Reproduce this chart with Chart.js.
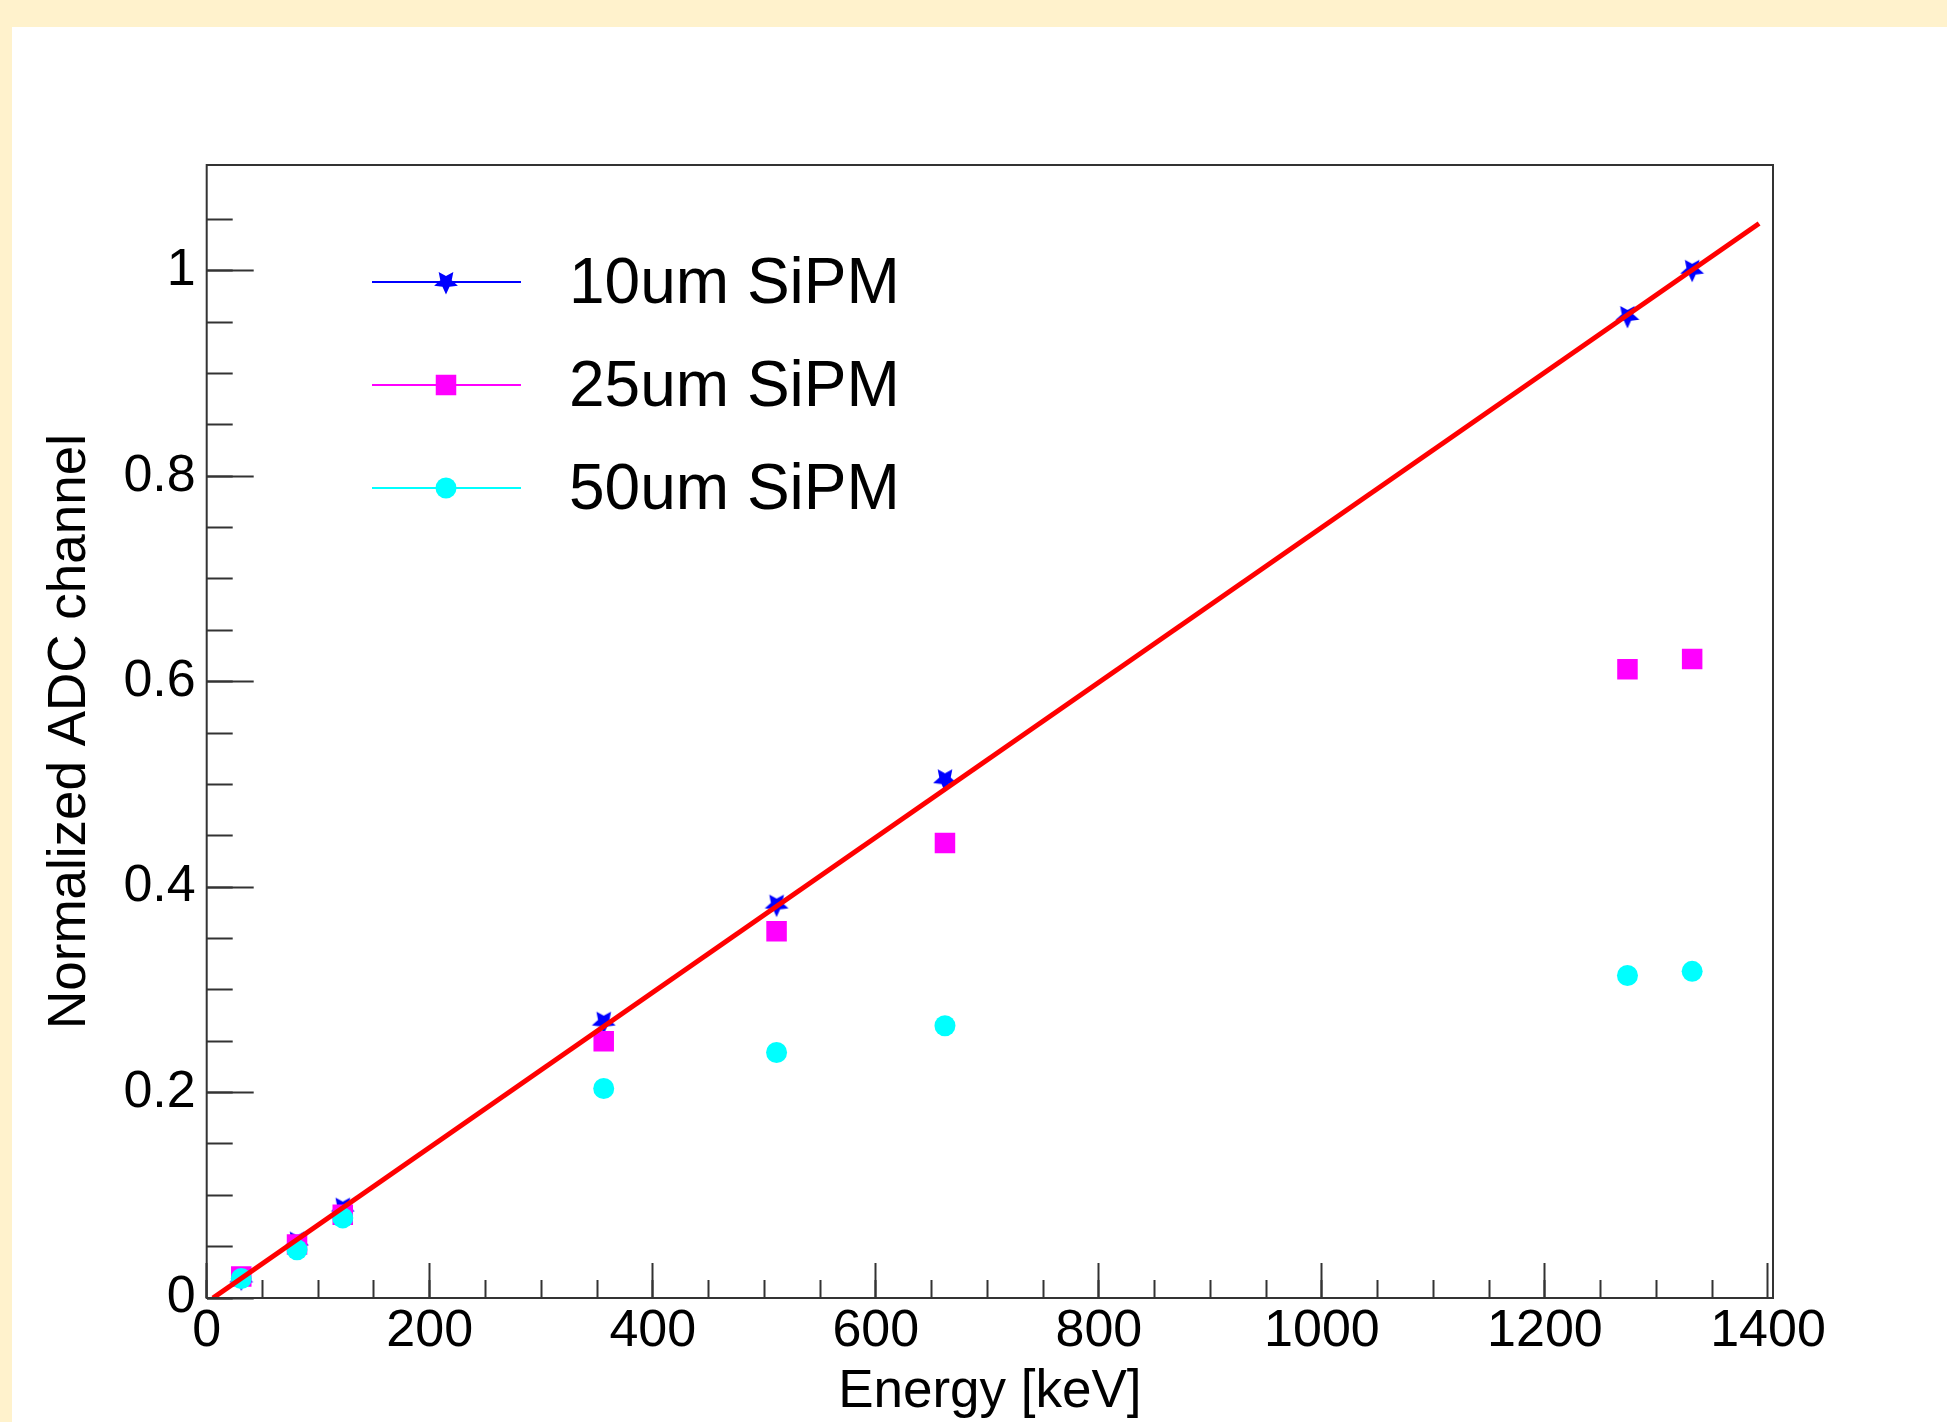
<!DOCTYPE html>
<html>
<head>
<meta charset="utf-8">
<script src="https://cdn.jsdelivr.net/npm/chart.js@4.4.1/dist/chart.umd.min.js"></script>
<style>
  html, body { margin: 0; padding: 0; background: rgb(255, 242, 204); width: 1947px; height: 1422px; overflow: hidden; }
  #c { position: absolute; left: 12px; top: 27px; background: #ffffff; }
</style>
</head>
<body>
<canvas id="c" width="1935" height="1395"></canvas>
<script>
// ---------------- data ----------------
const energies = [31, 81, 122, 356, 511, 662, 1274, 1332];          // keV
const sipm10 = [0.019, 0.055, 0.088, 0.269, 0.383, 0.505, 0.956, 1.001];
const sipm25 = [0.021, 0.052, 0.081, 0.250, 0.357, 0.443, 0.612, 0.622];
const sipm50 = [0.019, 0.047, 0.078, 0.204, 0.239, 0.265, 0.314, 0.318];
const seriesLabels = ['10um SiPM', '25um SiPM', '50um SiPM'];
// linear fit drawn as a straight line: endpoints
const fitEnergy = [5.6, 1392];
const fitADC = [0.0, 1.046];
// axes
const xMin = 0, xMax = 1404.5, xMinorStep = 50;
const yMin = 0, yMax = 1.103, yMinorStep = 0.05;
const xTickLabels = [0, 200, 400, 600, 800, 1000, 1200, 1400];
const yTickLabels = [0, 0.2, 0.4, 0.6, 0.8, 1];
const xTitle = 'Energy [keV]';
const yTitle = 'Normalized ADC channel';

// ---------------- styling ----------------
const FONT = 'Liberation Sans';
const AXIS_COLOR = '#333333';

function makeStar(color) {
  const c = document.createElement('canvas');
  c.width = 28; c.height = 28;
  const g = c.getContext('2d');
  const R = 12.5, r = 6.0, cx = 14, cy = 14;
  g.beginPath();
  for (let k = 0; k < 10; k++) {
    const a = Math.PI / 2 + k * Math.PI / 5;
    const rr = (k % 2 === 0) ? R : r;
    const px = cx + rr * Math.cos(a), py = cy + rr * Math.sin(a);
    if (k === 0) g.moveTo(px, py); else g.lineTo(px, py);
  }
  g.closePath();
  g.fillStyle = color;
  g.fill();
  return c;
}

const pts = (ys) => energies.map((e, i) => ({ x: e, y: ys[i] }));
const fixedTicks = (vals) => (scale) => { scale.ticks = vals.map(v => ({ value: v })); };
const onStep = (step) => (scale) => {
  scale.ticks = scale.ticks.filter(t => Math.abs(t.value / step - Math.round(t.value / step)) < 1e-6);
};

const starImg = makeStar('#0000ff');

const datasets = [
  {
    label: 'fit', type: 'line', data: fitEnergy.map((e, i) => ({ x: e, y: fitADC[i] })),
    borderColor: '#ff0000', borderWidth: 5, pointRadius: 0, showLine: true, fill: false,
    order: 0, xAxisID: 'x', yAxisID: 'y'
  },
  {
    label: seriesLabels[2], data: pts(sipm50), backgroundColor: '#00ffff', borderColor: '#00ffff',
    pointStyle: 'circle', pointRadius: 10.5, pointBorderWidth: 0, order: 1
  },
  {
    label: seriesLabels[1], data: pts(sipm25), backgroundColor: '#ff00ff', borderColor: '#ff00ff',
    pointStyle: 'rect', pointRadius: 14.5, pointBorderWidth: 0, order: 2
  },
  {
    label: seriesLabels[0], data: pts(sipm10), backgroundColor: '#0000ff', borderColor: '#0000ff',
    pointStyle: starImg, pointRadius: 12, pointBorderWidth: 0, order: 3
  }
];

// frame + legend plugin
const rootStyle = {
  id: 'rootStyle',
  afterDraw(chart) {
    const ctx = chart.ctx;
    const a = chart.chartArea;
    ctx.save();
    ctx.strokeStyle = AXIS_COLOR;
    ctx.lineWidth = 2;
    ctx.strokeRect(a.left, a.top, a.right - a.left, a.bottom - a.top);

    // legend (inside the frame, upper left)
    const order = [3, 2, 1]; // 10um, 25um, 50um
    const rowsY = [255, 358, 461];
    const lineX1 = 360, lineX2 = 509, markX = 434, textX = 557;
    order.forEach((di, r) => {
      const ds = chart.data.datasets[di];
      const y = rowsY[r];
      ctx.strokeStyle = ds.borderColor;
      ctx.lineWidth = 2;
      ctx.beginPath();
      ctx.moveTo(lineX1, y); ctx.lineTo(lineX2, y);
      ctx.stroke();
      ctx.fillStyle = ds.backgroundColor;
      if (ds.pointStyle === 'circle') {
        ctx.beginPath(); ctx.arc(markX, y, ds.pointRadius, 0, Math.PI * 2); ctx.fill();
      } else if (ds.pointStyle === 'rect') {
        const s = ds.pointRadius * Math.SQRT1_2; ctx.fillRect(markX - s, y - s, 2 * s, 2 * s);
      } else {
        const img = ds.pointStyle; ctx.drawImage(img, markX - img.width / 2, y - img.height / 2);
      }
      ctx.fillStyle = '#000000';
      ctx.font = '64px "' + FONT + '"';
      ctx.textAlign = 'left';
      ctx.textBaseline = 'middle';
      ctx.fillText(ds.label, textX, y + 3);
    });
    ctx.restore();
  }
};

const tickFmt = (v) => String(+Number(v).toFixed(2));

new Chart(document.getElementById('c'), {
  type: 'scatter',
  data: { datasets },
  plugins: [rootStyle],
  options: {
    responsive: false,
    animation: false,
    devicePixelRatio: 1,
    layout: { padding: { left: 0, top: 138, right: 174, bottom: 0 } },
    plugins: { legend: { display: false }, tooltip: { enabled: false } },
    scales: {
      x: {
        type: 'linear', position: 'bottom', min: xMin, max: xMax, weight: 1,
        afterBuildTicks: fixedTicks(xTickLabels),
        afterFit: (s) => { s.height = 124; },
        ticks: { autoSkip: false, maxRotation: 0, minRotation: 0, padding: 37, color: '#000',
                 font: { family: FONT, size: 52 }, callback: tickFmt },
        grid: { drawOnChartArea: false, drawTicks: true, tickLength: -35, tickWidth: 2, tickColor: AXIS_COLOR },
        border: { display: false },
        title: { display: true, text: xTitle, color: '#000', font: { family: FONT, size: 53, lineHeight: 1.0 }, padding: 3 }
      },
      xMinor: {
        type: 'linear', position: 'bottom', min: xMin, max: xMax, weight: 0,
        afterBuildTicks: onStep(xMinorStep),
        afterFit: (s) => { s.height = 0; },
        ticks: { stepSize: xMinorStep, autoSkip: false, display: false },
        grid: { drawOnChartArea: false, drawTicks: true, tickLength: -18, tickWidth: 2, tickColor: AXIS_COLOR },
        border: { display: false }
      },
      y: {
        type: 'linear', position: 'left', min: yMin, max: yMax, weight: 1,
        afterBuildTicks: fixedTicks(yTickLabels),
        afterFit: (s) => { s.width = 194.7; },
        ticks: { autoSkip: false, padding: 58, color: '#000',
                 font: { family: FONT, size: 52 }, callback: tickFmt },
        grid: { drawOnChartArea: false, drawTicks: true, tickLength: -47, tickWidth: 2, tickColor: AXIS_COLOR },
        border: { display: false },
        title: { display: true, text: yTitle, color: '#000', font: { family: FONT, size: 53 }, padding: 27 }
      },
      yMinor: {
        type: 'linear', position: 'left', min: yMin, max: yMax, weight: 0,
        afterBuildTicks: onStep(yMinorStep),
        afterFit: (s) => { s.width = 0; },
        ticks: { stepSize: yMinorStep, autoSkip: false, display: false },
        grid: { drawOnChartArea: false, drawTicks: true, tickLength: -26, tickWidth: 2, tickColor: AXIS_COLOR },
        border: { display: false }
      }
    }
  }
});
</script>
</body>
</html>
